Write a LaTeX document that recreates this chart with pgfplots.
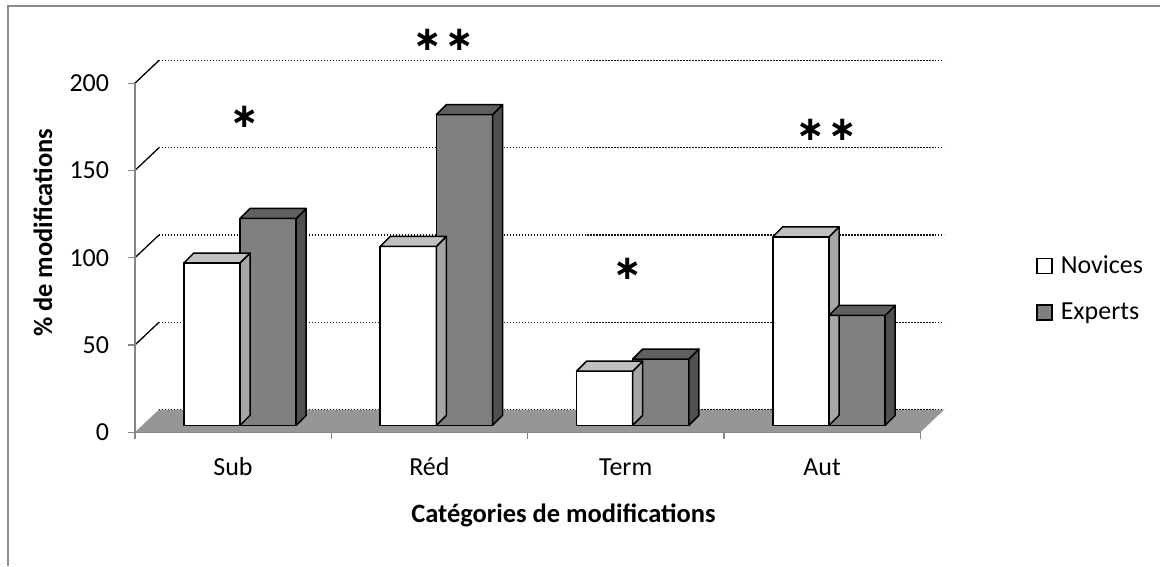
\documentclass[border=0pt]{standalone}
\usepackage{pgfplots}
\pgfplotsset{compat=1.18}
\usepackage{pgfplotstable}
\usepackage{fontspec}
\setmainfont{Carlito}
\newfontfamily\djv{DejaVu Sans}
\definecolor{axisgray}{HTML}{868686}
\definecolor{floorgray}{HTML}{969696}
\definecolor{novtop}{HTML}{C0C0C0}
\definecolor{novside}{HTML}{A6A6A6}
\definecolor{expfront}{HTML}{808080}
\definecolor{exptop}{HTML}{606060}
\definecolor{expside}{HTML}{505050}
\definecolor{framegray}{HTML}{8C8C8C}
\definecolor{gridblack}{HTML}{101010}
\pgfdeclareplotmark{nothing}{}

\pgfplotstableread{
x nov exp
1 93 118.5
2 102.5 178
3 31 38
4 108 63
}\data

\pgfplotstableread{
x y
1.0598 181.0
3.0125 93.4
}\onestar
\pgfplotstableread{
x y
2.0725 224.8
4.0242 173.3
}\twostar

\pgfplotsset{
  faces3d/.style n args={5}{
    forget plot, only marks, mark=nothing, scatter,
    visualization depends on={\thisrow{#1} \as \bval},
    scatter/@pre marker code/.code={%
      \pgfscope
      \pgfmathsetlengthmacro\bbot{7pt-\bval*1.747pt}%
      \pgfsetlinewidth{1.5pt}\pgfsetroundjoin
      \pgfsetstrokecolor{black}%
      \pgfsetfillcolor{#5}%
      \pgfpathmoveto{\pgfpoint{#3pt}{\bbot}}%
      \pgfpathlineto{\pgfpoint{#3pt+10pt}{\bbot+10pt}}%
      \pgfpathlineto{\pgfpoint{#3pt+10pt}{17pt}}%
      \pgfpathlineto{\pgfpoint{#3pt}{7pt}}%
      \pgfpathclose
      \pgfusepath{fill,stroke}%
      \pgfsetfillcolor{#4}%
      \pgfpathmoveto{\pgfpoint{#2pt}{7pt}}%
      \pgfpathlineto{\pgfpoint{#3pt}{7pt}}%
      \pgfpathlineto{\pgfpoint{#3pt+10pt}{17pt}}%
      \pgfpathlineto{\pgfpoint{#2pt+10pt}{17pt}}%
      \pgfpathclose
      \pgfusepath{fill,stroke}%
      \endpgfscope
    },
    scatter/@post marker code/.code={},
  },
  starplot/.style={forget plot, only marks, mark=nothing,
    nodes near coords={#1}, 
    every node near coord/.style={anchor=center, inner sep=0pt, font=\djv\bfseries\fontsize{34}{34}\selectfont}},
}

\begin{document}
\begin{tikzpicture}
\path (0pt,0pt) rectangle (1161pt,566pt);
\draw[framegray, line width=2pt] (8pt,0pt) -- (8pt,560pt) -- (1161pt,560pt);
\begin{axis}[
  set layers,
  at={(135pt,133.3pt)}, anchor=south west,
  scale only axis, width=786pt, height=349.4pt,
  xmin=0.5, xmax=4.5, ymin=0, ymax=200,
  clip=false,
  axis lines*=left,
  axis line style={axisgray, line width=1.3pt},
  ytick={0,50,...,200},
  xtick={0.5,1.5,...,4.5}, xticklabels={,,,,},
  extra x ticks={1,2,3,4}, extra x tick labels={Sub,Réd,Term,Aut},
  extra x tick style={major tick length=0pt},
  tick align=outside, major tick length=7pt,
  tick style={axisgray, line width=1.3pt},
  /pgf/number format/assume math mode=true,
  tick label style={font=\fontsize{26}{30}\selectfont},
  yticklabel style={anchor=east, inner sep=0pt, xshift=-18.7pt},
  xticklabel style={anchor=base, inner sep=0pt, yshift=-43.7pt},
  xlabel={Catégories de modifications},
  xlabel style={at={(axis description cs:0.5458,-0.2584)}, anchor=base, inner sep=0pt, font=\bfseries\fontsize{26.5}{30}\selectfont},
  ylabel={\% de modifications},
  ylabel style={at={(axis description cs:-0.117,0.5715)}, anchor=center, inner sep=0pt, font=\bfseries\fontsize{26.5}{30}\selectfont},
  legend style={draw=none, fill=none, at={(1.1472,0.4041)}, anchor=west, inner sep=0pt,
    row sep=19.5pt, column sep=8.3pt, font=\fontsize{26}{30}\selectfont,
    cells={anchor=base west},
    nodes={inner sep=0pt, text height=19pt, text depth=8pt}},
]
\begin{pgfonlayer}{axis background}
\fill[floorgray] (axis cs:0.5,0) -- (axis cs:4.5,0) -- ([shift={(24pt,22.7pt)}]axis cs:4.5,0) -- ([shift={(24pt,22.7pt)}]axis cs:0.5,0) -- cycle;
\draw[gridblack, line width=1.3pt, dash pattern=on 1.3pt off 1.7pt] ([shift={(24pt,22.7pt)}]axis cs:0.5,0) -- ([shift={(24pt,22.7pt)}]axis cs:4.5,0);
\draw[gridblack, line width=1.3pt, dash pattern=on 1.3pt off 1.7pt] ([shift={(24pt,22.7pt)}]axis cs:0.5,50) -- ([shift={(24pt,22.7pt)}]axis cs:4.5,50);
\draw[gridblack, line width=1.3pt, dash pattern=on 1.3pt off 1.7pt] ([shift={(24pt,22.7pt)}]axis cs:0.5,100) -- ([shift={(24pt,22.7pt)}]axis cs:4.5,100);
\draw[gridblack, line width=1.3pt, dash pattern=on 1.3pt off 1.7pt] ([shift={(24pt,22.7pt)}]axis cs:0.5,150) -- ([shift={(24pt,22.7pt)}]axis cs:4.5,150);
\draw[gridblack, line width=1.3pt, dash pattern=on 1.3pt off 1.7pt] ([shift={(24pt,22.7pt)}]axis cs:0.5,200) -- ([shift={(24pt,22.7pt)}]axis cs:4.5,200);
\draw[black, line width=1.3pt] (axis cs:0.5,50) -- ++(24pt,22.7pt);
\draw[black, line width=1.3pt] (axis cs:0.5,100) -- ++(24pt,22.7pt);
\draw[black, line width=1.3pt] (axis cs:0.5,150) -- ++(24pt,22.7pt);
\draw[black, line width=1.3pt] (axis cs:0.5,200) -- ++(24pt,22.7pt);
\end{pgfonlayer}

\addplot[faces3d={nov}{-49.25}{7}{novtop}{novside}] table[x=x,y=nov]{\data};
\addplot[ybar, bar width=56.25pt, bar shift=-28.125pt, xshift=7pt, yshift=7pt,
  fill=white, draw=black, line width=1.5pt,
  legend image code/.code={\draw[fill=white, draw=black, line width=1.5pt] (0pt,-7.2pt) rectangle (15pt,7.8pt);}]
  table[x=x,y=nov]{\data};
\addplot[faces3d={exp}{7}{63.25}{exptop}{expside}] table[x=x,y=exp]{\data};
\addplot[ybar, bar width=56.25pt, bar shift=28.125pt, xshift=7pt, yshift=7pt,
  fill=expfront, draw=black, line width=1.5pt,
  legend image code/.code={\draw[fill=expfront, draw=black, line width=1.5pt] (0pt,-7.2pt) rectangle (15pt,7.8pt);}]
  table[x=x,y=exp]{\data};
\legend{Novices,Experts}
\addplot[starplot={∗}] table[x=x,y=y]{\onestar};
\addplot[starplot={∗\kern3pt∗}] table[x=x,y=y]{\twostar};
\end{axis}
\end{tikzpicture}
\end{document}
